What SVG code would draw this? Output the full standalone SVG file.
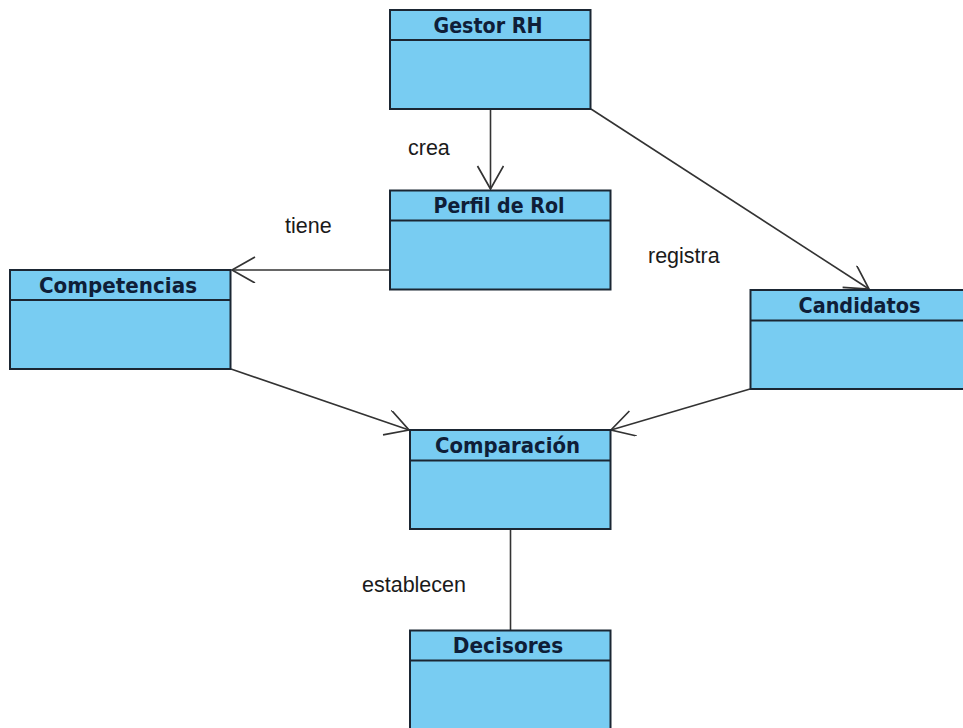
<svg xmlns="http://www.w3.org/2000/svg" width="963" height="728" viewBox="0 0 963 728">
<style>
.box{fill:#78CCF2;stroke:#1b2633;stroke-width:2}
.sep{stroke:#1b2633;stroke-width:2}
.name{font-family:"DejaVu Sans",sans-serif;font-weight:bold;font-size:20.5px;fill:#0f1e38;text-anchor:middle}
.lbl{font-family:"Liberation Sans",Arial,sans-serif;font-size:21.5px;fill:#1a1a1a}
.edge{stroke:#333;stroke-width:1.6;fill:none}
</style>
<defs>
<marker id="open" markerUnits="userSpaceOnUse" markerWidth="30" markerHeight="30" refX="24" refY="13" orient="auto" viewBox="0 0 30 30">
<path d="M1 0 L24 13 L1 26" fill="none" stroke="#333" stroke-width="1.7"/>
</marker>
</defs>
<rect width="963" height="728" fill="#ffffff"/>
<g id="connectors">
<line class="edge" x1="490.5" y1="109" x2="490.5" y2="189" marker-end="url(#open)"/>
<line class="edge" x1="390" y1="270" x2="232" y2="270" marker-end="url(#open)"/>
<line class="edge" x1="591" y1="109" x2="869" y2="289" marker-end="url(#open)"/>
<line class="edge" x1="231" y1="369" x2="409" y2="430" marker-end="url(#open)"/>
<line class="edge" x1="750" y1="389" x2="611" y2="430" marker-end="url(#open)"/>
<line class="edge" x1="510.5" y1="529" x2="510.5" y2="630"/>
<text class="lbl" x="408" y="155">crea</text>
<text class="lbl" x="285" y="233">tiene</text>
<text class="lbl" x="648" y="263">registra</text>
<text class="lbl" x="362" y="592">establecen</text>
</g>
<g id="gestor">
<rect class="box" x="390" y="10" width="200.5" height="99"/>
<line class="sep" x1="390" y1="40" x2="590.5" y2="40"/>
<text class="name" x="488" y="32.5" textLength="109" lengthAdjust="spacingAndGlyphs">Gestor RH</text>
</g>
<g id="perfil">
<rect class="box" x="390" y="190.5" width="220.5" height="99"/>
<line class="sep" x1="390" y1="220.5" x2="610.5" y2="220.5"/>
<text class="name" x="499" y="213" textLength="131" lengthAdjust="spacingAndGlyphs">Perfil de Rol</text>
</g>
<g id="competencias">
<rect class="box" x="10" y="270" width="220.5" height="99"/>
<line class="sep" x1="10" y1="300" x2="230.5" y2="300"/>
<text class="name" x="118" y="292.5" textLength="158" lengthAdjust="spacingAndGlyphs">Competencias</text>
</g>
<g id="candidatos">
<rect class="box" x="750.5" y="290" width="220" height="99"/>
<line class="sep" x1="750.5" y1="320.5" x2="970" y2="320.5"/>
<text class="name" x="859.5" y="313" textLength="122" lengthAdjust="spacingAndGlyphs">Candidatos</text>
</g>
<g id="comparacion">
<rect class="box" x="410" y="430" width="200.5" height="99"/>
<line class="sep" x1="410" y1="460.5" x2="610.5" y2="460.5"/>
<text class="name" x="507.5" y="452.5" textLength="145" lengthAdjust="spacingAndGlyphs">Comparación</text>
</g>
<g id="decisores">
<rect class="box" x="410" y="630.5" width="200.5" height="110"/>
<line class="sep" x1="410" y1="660.5" x2="610.5" y2="660.5"/>
<text class="name" x="508" y="653" textLength="110.5" lengthAdjust="spacingAndGlyphs">Decisores</text>
</g>
</svg>
